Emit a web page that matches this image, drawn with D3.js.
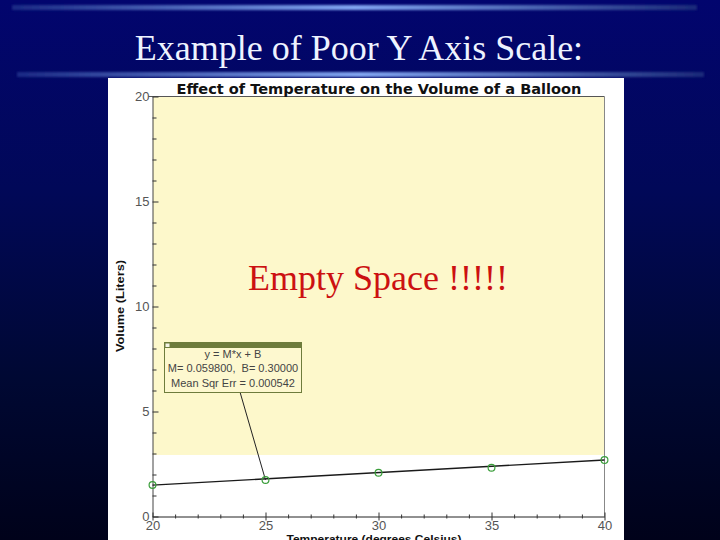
<!DOCTYPE html>
<html>
<head>
<meta charset="utf-8">
<script src="https://cdn.jsdelivr.net/npm/d3@7"></script>
<style>
  html, body { margin: 0; padding: 0; background: #000030; overflow: hidden; }
  svg { display: block; }
</style>
</head>
<body>
<script>
// ---- data ----
const slideTitle = "Example of Poor Y Axis Scale:";
const chartTitle = "Effect of Temperature on the Volume of a Balloon";
const xLabel = "Temperature (degrees Celsius)";
const yLabel = "Volume (Liters)";
const callout = "Empty Space !!!!!";
const temps = [20, 25, 30, 35, 40];
const volumes = [1.50, 1.74, 2.08, 2.32, 2.69];
const fitTemps = [20, 40];
const fitVolumes = [1.496, 2.692];
const xMajorTicks = [20, 25, 30, 35, 40];
const yMajorTicks = [0, 5, 10, 15, 20];
const xMinorTicks = [21,22,23,24,26,27,28,29,31,32,33,34,36,37,38,39];
const yMinorTicks = [1,2,3,4,6,7,8,9,11,12,13,14,16,17,18,19];
const emptyFloor = 2.93;
const fitLines = ["y = M*x + B", "M= 0.059800,  B= 0.30000", "Mean Sqr Err = 0.000542"];
const annotateTemp = 25;

// ---- canvas ----
const W = 720, H = 540;
const svg = d3.select("body").append("svg").attr("width", W).attr("height", H);
const defs = svg.append("defs");

const bg = defs.append("linearGradient").attr("id", "bg").attr("x1", 0).attr("y1", 0).attr("x2", 0).attr("y2", 1);
bg.append("stop").attr("offset", "0%").attr("stop-color", "#02056e");
bg.append("stop").attr("offset", "35%").attr("stop-color", "#010858");
bg.append("stop").attr("offset", "70%").attr("stop-color", "#000833");
bg.append("stop").attr("offset", "100%").attr("stop-color", "#00021a");
svg.append("rect").attr("width", W).attr("height", H).attr("fill", "url(#bg)");

const lg = defs.append("linearGradient").attr("id", "rule").attr("x1", 0).attr("x2", 1);
lg.append("stop").attr("offset", "0%").attr("stop-color", "#1c2c86");
lg.append("stop").attr("offset", "50%").attr("stop-color", "#88aef8");
lg.append("stop").attr("offset", "100%").attr("stop-color", "#1c2c7a");
const blur = defs.append("filter").attr("id", "soft").attr("x", "-5%").attr("y", "-200%").attr("width", "110%").attr("height", "500%");
blur.append("feGaussianBlur").attr("stdDeviation", "0.8");

[[12, 7.5, 697], [17, 74.5, 704]].forEach(([x0, yy, x1]) => {
  svg.append("rect").attr("x", x0).attr("y", yy - 2.5).attr("width", x1 - x0).attr("height", 5)
    .attr("fill", "url(#rule)").attr("filter", "url(#soft)").attr("opacity", 0.95);
});

svg.append("text").attr("x", 359).attr("y", 60).attr("text-anchor", "middle")
  .attr("font-family", "'Liberation Serif', 'Times New Roman', serif").attr("font-size", 36)
  .attr("fill", "#eef3ff").text(slideTitle);

// white panel
svg.append("rect").attr("x", 108).attr("y", 78).attr("width", 516).attr("height", 470).attr("fill", "#ffffff");

// ---- scales ----
const x = d3.scaleLinear().domain([20, 40]).range([152.5, 604.5]);
const y = d3.scaleLinear().domain([0, 20]).range([516.5, 96.5]);

// empty-space highlight
svg.append("rect").attr("x", x(20) + 0.5).attr("y", y(20))
  .attr("width", x(40) - x(20) - 0.5).attr("height", y(emptyFloor) - y(20))
  .attr("fill", "#fdf8cb");

// frame top + right
svg.append("line").attr("x1", x(20) - 4).attr("x2", x(40)).attr("y1", y(20)).attr("y2", y(20))
  .attr("stroke", "#555").attr("stroke-width", 1);
svg.append("line").attr("x1", x(40)).attr("x2", x(40)).attr("y1", y(20)).attr("y2", y(0))
  .attr("stroke", "#888").attr("stroke-width", 1);

svg.append("text").attr("x", 379).attr("y", 93.5).attr("text-anchor", "middle")
  .attr("font-family", "'DejaVu Sans', Verdana, sans-serif").attr("font-weight", "bold")
  .attr("font-size", 14.5).attr("fill", "#111")
  .attr("textLength", 405).attr("lengthAdjust", "spacingAndGlyphs").text(chartTitle);

// ---- axes ----
const tickFont = "'Liberation Sans', Arial, sans-serif";
const gy = svg.append("g").attr("transform", `translate(${x(20)},0)`)
  .call(d3.axisLeft(y).tickValues(yMajorTicks).tickSize(-6).tickSizeOuter(0).tickPadding(3).tickFormat(d3.format("d")));
svg.append("g").attr("transform", `translate(${x(20)},0)`)
  .call(d3.axisLeft(y).tickValues(yMinorTicks).tickSize(-4).tickSizeOuter(0).tickFormat(""))
  .call(g => g.select(".domain").remove());

const gx = svg.append("g").attr("transform", `translate(0,${y(0)})`)
  .call(d3.axisBottom(x).tickValues(xMajorTicks).tickSize(4).tickSizeOuter(0).tickPadding(0).tickFormat(d3.format("d")));
gx.selectAll(".tick line").attr("y1", -4);
svg.append("g").attr("transform", `translate(0,${y(0)})`)
  .call(d3.axisBottom(x).tickValues(xMinorTicks).tickSize(2).tickSizeOuter(0).tickFormat(""))
  .call(g => g.select(".domain").remove())
  .call(g => g.selectAll(".tick line").attr("y1", -2));

svg.selectAll(".tick text").attr("font-family", tickFont).attr("font-size", 13).attr("fill", "#555");
gx.select(".domain").attr("stroke", "#222");
gy.select(".domain").attr("stroke", "#444");
svg.selectAll(".tick line").attr("stroke", "#333");

svg.append("text").attr("x", 374).attr("y", 543).attr("text-anchor", "middle")
  .attr("font-family", tickFont).attr("font-weight", "bold").attr("font-size", 11.5).attr("fill", "#111")
  .attr("textLength", 175).attr("lengthAdjust", "spacingAndGlyphs").text(xLabel);
svg.append("text").attr("transform", "translate(123.5,306) rotate(-90)").attr("text-anchor", "middle")
  .attr("font-family", tickFont).attr("font-weight", "bold").attr("font-size", 11.5).attr("fill", "#111")
  .attr("textLength", 92).attr("lengthAdjust", "spacingAndGlyphs").text(yLabel);

// ---- callout text ----
svg.append("text").attr("x", 378).attr("y", 289.5).attr("text-anchor", "middle")
  .attr("font-family", "'Liberation Serif', 'Times New Roman', serif").attr("font-size", 36)
  .attr("fill", "#cc1111").text(callout);

// ---- fit line + points ----
const line = d3.line().x(d => x(d[0])).y(d => y(d[1]));
svg.append("path").datum(fitTemps.map((t, i) => [t, fitVolumes[i]]))
  .attr("d", line).attr("fill", "none").attr("stroke", "#1a1a1a").attr("stroke-width", 1.4);

// annotation box
const bx = 164, by = 342, bw = 137, bh = 50;
const ai = temps.indexOf(annotateTemp);
svg.append("line").attr("x1", 240).attr("y1", by + bh).attr("x2", x(temps[ai])).attr("y2", y(volumes[ai]))
  .attr("stroke", "#222").attr("stroke-width", 1);

svg.selectAll("circle.pt").data(temps.map((t, i) => [t, volumes[i]])).join("circle")
  .attr("class", "pt").attr("cx", d => x(d[0])).attr("cy", d => y(d[1])).attr("r", 3.4)
  .attr("fill", "none").attr("stroke", "#3a9e3a").attr("stroke-width", 1.2);

svg.append("rect").attr("x", bx + 0.5).attr("y", by + 0.5).attr("width", bw).attr("height", bh)
  .attr("fill", "#fdf8cf").attr("stroke", "#6e7c3c").attr("stroke-width", 1);
svg.append("rect").attr("x", bx + 0.5).attr("y", by + 0.5).attr("width", bw).attr("height", 5.5)
  .attr("fill", "#6e7c3c");
svg.append("rect").attr("x", bx + 1.5).attr("y", by + 1.5).attr("width", 4).attr("height", 3.5)
  .attr("fill", "#f4f4e8");
svg.selectAll("text.fit").data(fitLines).join("text").attr("class", "fit")
  .attr("x", bx + bw / 2 + 0.5).attr("y", (d, i) => 357.5 + i * 14.5).attr("text-anchor", "middle")
  .attr("font-family", tickFont).attr("font-size", 11).attr("fill", "#444")
  .style("white-space", "pre").text(d => d);
</script>
</body>
</html>
